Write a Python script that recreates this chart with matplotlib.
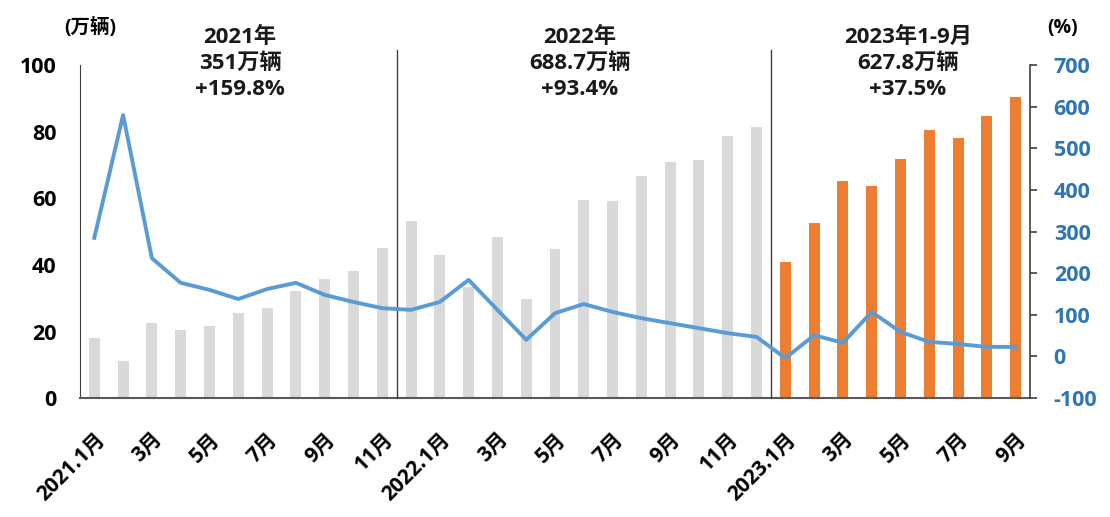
import matplotlib
matplotlib.use("Agg")
import matplotlib.pyplot as plt
import numpy as np

plt.rcParams['font.family'] = ['Open Sans', 'Noto Sans CJK SC', 'DejaVu Sans']
plt.rcParams['axes.unicode_minus'] = False

# 月度销量（万辆）
sales_2021 = [17.9, 11.0, 22.6, 20.6, 21.7, 25.6, 27.1, 32.1, 35.7, 38.3, 45.0, 53.1]
sales_2022 = [43.1, 33.4, 48.4, 29.9, 44.7, 59.6, 59.3, 66.6, 70.8, 71.4, 78.6, 81.4]
sales_2023 = [40.8, 52.5, 65.3, 63.6, 71.7, 80.6, 78.0, 84.6, 90.4]

# 同比增长（%）
growth = [285, 580, 236, 177, 160, 138, 162, 177, 148, 131, 116, 112,
          131, 184, 112, 40, 104, 126, 107, 92, 80, 68, 56, 47,
          -4, 51, 33, 107, 59, 35, 30, 23, 23]

tick_labels = ['2021.1月', '3月', '5月', '7月', '9月', '11月',
               '2022.1月', '3月', '5月', '7月', '9月', '11月',
               '2023.1月', '3月', '5月', '7月', '9月']

notes = ['2021年\n351万辆\n+159.8%', '2022年\n688.7万辆\n+93.4%', '2023年1-9月\n627.8万辆\n+37.5%']

gray = '#d9d9d9'
orange = '#ed7d31'
blue = '#5b9bd5'
blue_txt = '#2e75b6'

sales = sales_2021 + sales_2022 + sales_2023
x = np.arange(len(sales))
colors = [gray] * (len(sales_2021) + len(sales_2022)) + [orange] * len(sales_2023)

fig = plt.figure(figsize=(11.1, 5.17), dpi=100)
ax = fig.add_axes([0.072, 0.230, 0.856, 0.644])
ax.bar(x, sales, width=0.38, color=colors, zorder=2)
ax.set_xlim(-0.5, len(sales) - 0.5)
ax.set_ylim(0, 100)
ax.set_yticks(range(0, 101, 20))
ax.tick_params(axis='y', length=0, labelsize=15.5, pad=17)
for t in ax.get_yticklabels():
    t.set_fontweight('bold')
ax.set_xticks(x[::2])
ax.set_xticklabels(tick_labels, rotation=45, ha='right', rotation_mode='anchor',
                   fontsize=15, fontweight='bold')
ax.tick_params(axis='x', length=0, pad=22)
for s in ['top', 'right']:
    ax.spines[s].set_visible(False)
ax.spines['left'].set_color('#404040')
ax.spines['bottom'].set_color('#595959')
ax.spines['bottom'].set_linewidth(1.5)

# 分隔线
for pos in [10.5, 23.5]:
    ax.plot([pos, pos], [0, 104.5], color='#404040', lw=1, clip_on=False, zorder=3)

ax2 = ax.twinx()
ax2.plot(x, growth, color=blue, lw=2.8, zorder=4)
ax2.set_ylim(-100, 700)
ax2.set_yticks(range(-100, 701, 100))
ax2.tick_params(axis='y', length=5, width=1.2, color='#404040', labelsize=15.5,
                labelcolor=blue_txt, pad=12)
for t in ax2.get_yticklabels():
    t.set_fontweight('bold')
for s in ['top', 'left', 'bottom']:
    ax2.spines[s].set_visible(False)
ax2.spines['right'].set_color('#404040')
ax2.spines['right'].set_linewidth(1.2)

for xc, txt in zip([5.06, 16.87, 28.26], notes):
    ax.text(xc, 111.5, txt, ha='center', va='top', fontsize=16, fontweight='bold',
            linespacing=1.3, color='#1a1a1a')

fig.text(0.081, 0.946, '(万辆)', ha='center', va='center', fontsize=14, fontweight='bold')
fig.text(0.957, 0.946, '(%)', ha='center', va='center', fontsize=14, fontweight='bold')

fig.savefig('out.png', dpi=100)
